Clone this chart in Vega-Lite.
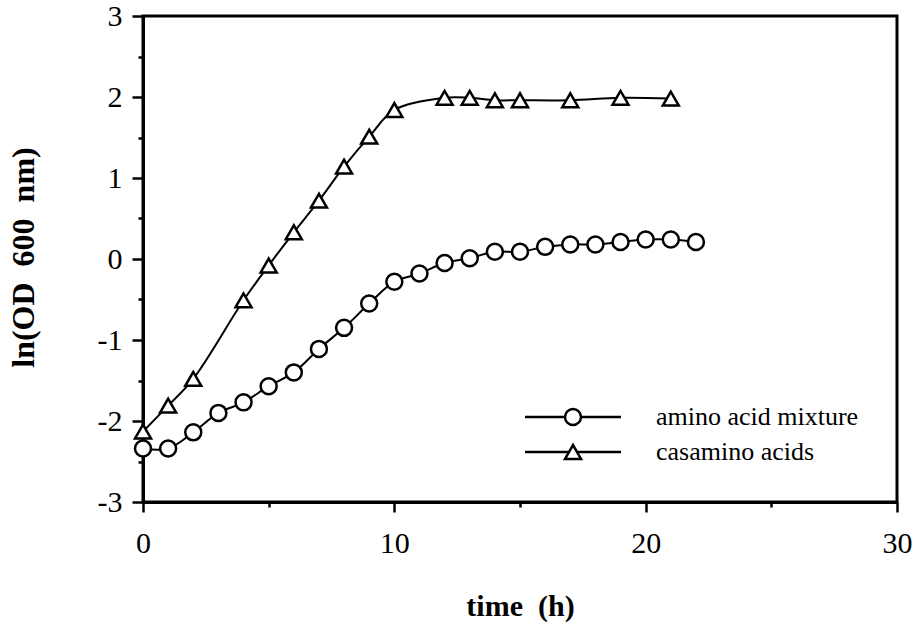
{
  "$schema": "https://vega.github.io/schema/vega-lite/v6.json",
  "width": 754,
  "height": 486,
  "autosize": {"type": "none"},
  "padding": {"left": 143, "top": 16, "right": 19, "bottom": 125},
  "background": "white",
  "config": {
    "font": "Liberation Serif",
    "view": {"stroke": "black", "strokeWidth": 3},
    "axis": {
      "grid": false,
      "domainColor": "black",
      "domainWidth": 3,
      "tickColor": "black",
      "tickWidth": 2.5,
      "labelColor": "black",
      "titleColor": "black",
      "labelFont": "Liberation Serif",
      "titleFont": "Liberation Serif",
      "labelFontSize": 30,
      "titleFontSize": 28,
      "titleFontWeight": "bold",
      "labelOverlap": false,
      "labelFlush": false
    }
  },
  "data": {
    "values": [
      {"time": 0, "od": -2.34, "medium": "amino acid mixture"},
      {"time": 1, "od": -2.34, "medium": "amino acid mixture"},
      {"time": 2, "od": -2.14, "medium": "amino acid mixture"},
      {"time": 3, "od": -1.90, "medium": "amino acid mixture"},
      {"time": 4, "od": -1.77, "medium": "amino acid mixture"},
      {"time": 5, "od": -1.57, "medium": "amino acid mixture"},
      {"time": 6, "od": -1.40, "medium": "amino acid mixture"},
      {"time": 7, "od": -1.11, "medium": "amino acid mixture"},
      {"time": 8, "od": -0.85, "medium": "amino acid mixture"},
      {"time": 9, "od": -0.55, "medium": "amino acid mixture"},
      {"time": 10, "od": -0.28, "medium": "amino acid mixture"},
      {"time": 11, "od": -0.18, "medium": "amino acid mixture"},
      {"time": 12, "od": -0.05, "medium": "amino acid mixture"},
      {"time": 13, "od": 0.01, "medium": "amino acid mixture"},
      {"time": 14, "od": 0.09, "medium": "amino acid mixture"},
      {"time": 15, "od": 0.09, "medium": "amino acid mixture"},
      {"time": 16, "od": 0.15, "medium": "amino acid mixture"},
      {"time": 17, "od": 0.18, "medium": "amino acid mixture"},
      {"time": 18, "od": 0.18, "medium": "amino acid mixture"},
      {"time": 19, "od": 0.21, "medium": "amino acid mixture"},
      {"time": 20, "od": 0.24, "medium": "amino acid mixture"},
      {"time": 21, "od": 0.24, "medium": "amino acid mixture"},
      {"time": 22, "od": 0.21, "medium": "amino acid mixture"},
      {"time": 0, "od": -2.13, "medium": "casamino acids"},
      {"time": 1, "od": -1.81, "medium": "casamino acids"},
      {"time": 2, "od": -1.48, "medium": "casamino acids"},
      {"time": 4, "od": -0.51, "medium": "casamino acids"},
      {"time": 5, "od": -0.08, "medium": "casamino acids"},
      {"time": 6, "od": 0.33, "medium": "casamino acids"},
      {"time": 7, "od": 0.72, "medium": "casamino acids"},
      {"time": 8, "od": 1.14, "medium": "casamino acids"},
      {"time": 9, "od": 1.51, "medium": "casamino acids"},
      {"time": 10, "od": 1.84, "medium": "casamino acids"},
      {"time": 12, "od": 1.99, "medium": "casamino acids"},
      {"time": 13, "od": 1.99, "medium": "casamino acids"},
      {"time": 14, "od": 1.96, "medium": "casamino acids"},
      {"time": 15, "od": 1.96, "medium": "casamino acids"},
      {"time": 17, "od": 1.96, "medium": "casamino acids"},
      {"time": 19, "od": 1.99, "medium": "casamino acids"},
      {"time": 21, "od": 1.98, "medium": "casamino acids"}
    ]
  },
  "encoding": {
    "x": {
      "field": "time",
      "type": "quantitative",
      "scale": {"domain": [0, 30], "nice": false, "zero": false},
      "axis": {
        "values": [0, 5, 10, 15, 20, 25, 30],
        "labelExpr": "datum.value % 10 == 0 ? '' + datum.value : ''",
        "tickSize": {"condition": {"test": "datum.value % 10 != 0", "value": 5}, "value": 10},
        "labelPadding": 16,
        "title": "time\u00a0 (h)",
        "titleFontSize": 30,
        "titleY": 113,
        "titleBaseline": "alphabetic"
      }
    },
    "y": {
      "field": "od",
      "type": "quantitative",
      "scale": {"domain": [-3, 3], "nice": false, "zero": false},
      "axis": {
        "values": [-3, -2.5, -2, -1.5, -1, -0.5, 0, 0.5, 1, 1.5, 2, 2.5, 3],
        "labelExpr": "datum.value % 1 == 0 ? '' + datum.value : ''",
        "tickSize": {"condition": {"test": "datum.value % 1 != 0", "value": 5}, "value": 11},
        "labelPadding": 10,
        "title": "ln(OD\u00a0 600\u00a0 nm)",
        "titleFontSize": 32,
        "titleX": -120,
        "titleY": 241,
        "titleAngle": -90,
        "titleBaseline": "middle",
        "titleAlign": "center"
      }
    }
  },
  "layer": [
    {
      "mark": {"type": "line", "interpolate": "catmull-rom", "strokeWidth": 2},
      "encoding": {
        "color": {
          "field": "medium",
          "type": "nominal",
          "scale": {"range": ["black", "black"]},
          "legend": {
            "title": null,
            "orient": "none",
            "legendX": 417,
            "legendY": 388,
            "labelFont": "Liberation Serif",
            "labelFontSize": 26,
            "labelOpacity": 0,
            "labelOffset": 70,
            "labelLimit": 400,
            "rowPadding": 9,
            "symbolType": "M-6,0H6",
            "symbolSize": 256,
            "symbolStrokeWidth": 2.5
          }
        }
      }
    },
    {
      "mark": {"type": "point", "filled": true, "fill": "white", "stroke": "black", "strokeWidth": 2.5, "size": 256, "opacity": 1},
      "encoding": {
        "shape": {
          "field": "medium",
          "type": "nominal",
          "scale": {"domain": ["amino acid mixture", "casamino acids"], "range": ["circle", "triangle-up"]},
          "legend": {
            "title": null,
            "orient": "none",
            "legendX": 417,
            "legendY": 388,
            "labelFont": "Liberation Serif",
            "labelFontSize": 26,
            "labelColor": "black",
            "labelOffset": 70,
            "labelLimit": 400,
            "rowPadding": 9,
            "symbolSize": 256,
            "symbolStrokeWidth": 2.5
          }
        }
      }
    }
  ]
}
